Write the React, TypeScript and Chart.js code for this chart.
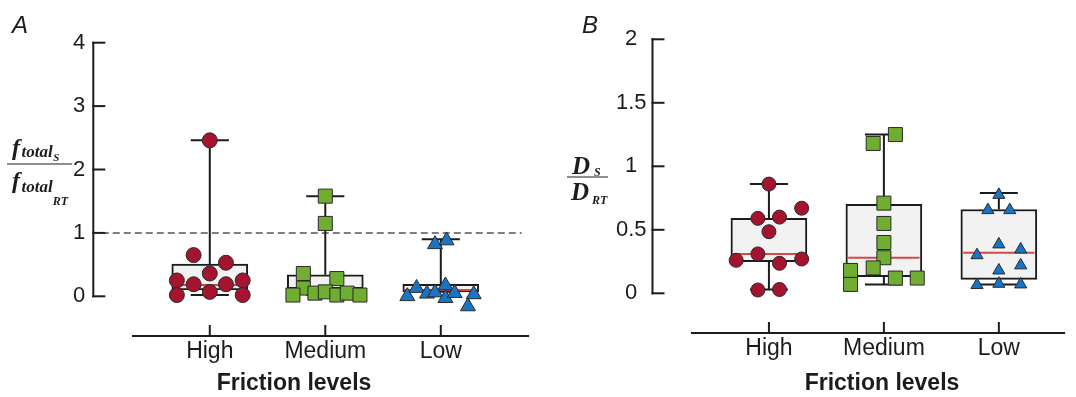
import React, { useEffect, useRef } from "react";
import { Chart, registerables } from "chart.js";

Chart.register(...registerables);

// ---------- data ----------
const categories = ["High", "Medium", "Low"];
const yTicksA = [0, 1, 2, 3, 4];
const yTicksB = [0, 0.5, 1, 1.5, 2];

// Panel A : f_totalS / f_totalRT
const aHigh = [2.46, 0.65, 0.53, 0.36, 0.25, 0.25, 0.19, 0.19, 0.07, 0.02, 0.02];
const aHighJitter = [0, -0.14, 0.14, 0, -0.285, 0.285, -0.14, 0.14, 0, -0.285, 0.285];
const aMedium = [1.58, 1.15, 0.36, 0.28, 0.13, 0.02, 0.05, 0.07, 0.02, 0.05, 0.02];
const aMediumJitter = [0, 0, -0.19, 0.1, -0.19, -0.28, -0.09, 0, 0.1, 0.19, 0.3];
const aLow = [0.0, 0.13, 0.04, 0.82, 0.06, 0.88, 0.17, -0.03, 0.05, -0.16, 0.03];
const aLowJitter = [-0.29, -0.21, -0.12, -0.05, -0.05, 0.05, 0.04, 0.04, 0.12, 0.235, 0.285];
const aQ1 = [0.1, 0.12, 0.07];
const aMedian = [0.18, 0.07, 0.1];
const aQ3 = [0.51, 0.34, 0.19];
const aMin = [0.02, 0.02, 0.07];
const aMax = [2.46, 1.58, 0.9];
const aReference = 1;

// Panel B : D_S / D_RT
const bHigh = [0.86, 0.67, 0.59, 0.6, 0.485, 0.31, 0.26, 0.27, 0.236, 0.026, 0.03];
const bHighJitter = [0, 0.285, -0.096, 0.092, 0, -0.096, -0.285, 0.285, 0.092, -0.096, 0.092];
const bMedium = [1.25, 1.18, 0.71, 0.55, 0.4, 0.28, 0.18, 0.07, 0.2, 0.12, 0.12];
const bMediumJitter = [0.1, -0.093, 0, 0, 0, 0, -0.29, -0.29, -0.093, 0.1, 0.29];
const bLow = [0.775, 0.655, 0.655, 0.385, 0.3, 0.345, 0.18, 0.22, 0.065, 0.075, 0.07];
const bLowJitter = [0, -0.095, 0.095, 0, -0.19, 0.19, 0, 0.19, -0.19, 0, 0.19];
const bQ1 = [0.25, 0.13, 0.11];
const bMedian = [0.31, 0.28, 0.32];
const bQ3 = [0.59, 0.7, 0.66];
const bMin = [0.03, 0.07, 0.07];
const bMax = [0.86, 1.25, 0.79];

// ---------- styles ----------
const RED = "#a5142f";
const GREEN = "#6fae31";
const BLUE = "#1875c5";
const INK = "#1c1c1c";
const MEDIAN = "#d24a4a";
const SANS = "'Liberation Sans', Arial, sans-serif";
const SERIF = "'Liberation Serif', 'Times New Roman', serif";

type Group = { values: number[]; jitter: number[]; style: string; radius: number; color: string };

type Spec = {
  width: number;
  groups: Group[];
  q1: number[];
  median: number[];
  q3: number[];
  min: number[];
  max: number[];
  yTicks: number[];
  yMin: number;
  yMax: number;
  xMin: number;
  xMax: number;
  axisStart: number;
  axisWidth: number;
  xAxisHeight: number;
  topPad: number;
  tickPad: number;
  reference?: number;
  refStart?: number;
  refEnd?: number;
  letter: string;
  letterX: number;
  titleX: number;
  drawFraction: (ctx: CanvasRenderingContext2D) => void;
};

const CAP = 0.165;
const HALF_BOX = 0.32;

function chain(ctx: CanvasRenderingContext2D, parts: [string, number, number, number][], x0: number) {
  // parts: text, font size, baseline, x adjust
  let x = x0;
  parts.forEach(([t, size, base, adj]) => {
    ctx.font = `italic bold ${size}px ${SERIF}`;
    x += adj;
    ctx.fillText(t, x, base);
    x += ctx.measureText(t).width;
  });
}

function fractionA(ctx: CanvasRenderingContext2D) {
  ctx.fillStyle = INK;
  ctx.textAlign = "left";
  ctx.textBaseline = "alphabetic";
  chain(ctx, [["f", 24, 155, 0], ["total", 17, 157, 1.5], ["S", 11, 161, 0.5]], 12);
  chain(ctx, [["f", 24, 188, 0], ["total", 17, 192, 1.5], ["RT", 12, 205, 0]], 12);
  ctx.strokeStyle = INK;
  ctx.lineWidth = 1.2;
  ctx.beginPath();
  ctx.moveTo(7, 164);
  ctx.lineTo(72, 164);
  ctx.stroke();
}

function fractionB(ctx: CanvasRenderingContext2D) {
  ctx.fillStyle = INK;
  ctx.textAlign = "left";
  ctx.textBaseline = "alphabetic";
  chain(ctx, [["D", 25, 174, 0], ["S", 12, 176, 4]], 32);
  chain(ctx, [["D", 25, 200, 0], ["RT", 12, 204, 3]], 31);
  ctx.strokeStyle = INK;
  ctx.lineWidth = 1.2;
  ctx.beginPath();
  ctx.moveTo(27, 177);
  ctx.lineTo(68, 177);
  ctx.stroke();
}

const specA: Spec = {
  width: 540,
  groups: [
    { values: aHigh, jitter: aHighJitter, style: "circle", radius: 7.5, color: RED },
    { values: aMedium, jitter: aMediumJitter, style: "rect", radius: 9.9, color: GREEN },
    { values: aLow, jitter: aLowJitter, style: "triangle", radius: 8.6, color: BLUE },
  ],
  q1: aQ1,
  median: aMedian,
  q3: aQ3,
  min: aMin,
  max: aMax,
  yTicks: yTicksA,
  yMin: -0.626,
  yMax: 4,
  xMin: -1.0084,
  xMax: 2.7644,
  axisStart: -0.673,
  axisWidth: 93.3,
  xAxisHeight: 61,
  topPad: 42.7,
  tickPad: 8,
  reference: aReference,
  refStart: -0.935,
  refEnd: 2.7,
  letter: "A",
  letterX: 12,
  titleX: 294,
  drawFraction: fractionA,
};

const specB: Spec = {
  width: 536,
  groups: [
    { values: bHigh, jitter: bHighJitter, style: "circle", radius: 7, color: RED },
    { values: bMedium, jitter: bMediumJitter, style: "rect", radius: 9.9, color: GREEN },
    { values: bLow, jitter: bLowJitter, style: "triangle", radius: 7, color: BLUE },
  ],
  q1: bQ1,
  median: bMedian,
  q3: bQ3,
  min: bMin,
  max: bMax,
  yTicks: yTicksB,
  yMin: -0.3126,
  yMax: 2,
  xMin: -1.0127,
  xMax: 2.5763,
  axisStart: -0.678,
  axisWidth: 112.5,
  xAxisHeight: 64,
  topPad: 39.3,
  tickPad: 6,
  letter: "B",
  letterX: 42,
  titleX: 342,
  drawFraction: fractionB,
};

function lineDs(points: { x: number; y: number }[], color: string, width: number, order: number, dash?: number[]) {
  return {
    type: "line",
    data: points,
    borderColor: color,
    borderWidth: width,
    borderDash: dash || [],
    pointRadius: 0,
    fill: false,
    tension: 0,
    order,
  };
}

function buildConfig(spec: Spec): any {
  const datasets: any[] = [];
  spec.groups.forEach((g, i) => {
    datasets.push({
      type: "scatter",
      data: g.values.map((v, k) => ({ x: i + g.jitter[k], y: v })),
      pointStyle: g.style,
      pointRadius: g.radius,
      pointHoverRadius: g.radius,
      backgroundColor: g.color,
      borderColor: "#2a2a2a",
      borderWidth: 1,
      order: 0,
    });
  });
  categories.forEach((_, i) => {
    datasets.push(lineDs([{ x: i - HALF_BOX + 0.01, y: spec.median[i] }, { x: i + HALF_BOX - 0.01, y: spec.median[i] }], MEDIAN, 2, 1));
    datasets.push(lineDs([{ x: i, y: spec.q3[i] }, { x: i, y: spec.max[i] }], INK, 2, 2));
    datasets.push(lineDs([{ x: i, y: spec.q1[i] }, { x: i, y: spec.min[i] }], INK, 2, 2));
    datasets.push(lineDs([{ x: i - CAP, y: spec.max[i] }, { x: i + CAP, y: spec.max[i] }], INK, 2, 2));
    datasets.push(lineDs([{ x: i - CAP, y: spec.min[i] }, { x: i + CAP, y: spec.min[i] }], INK, 2, 2));
  });
  datasets.push({
    type: "bar",
    data: categories.map((_, i) => ({ x: i, y: [spec.q1[i], spec.q3[i]] })),
    backgroundColor: "#f2f2f2",
    borderColor: INK,
    borderWidth: 2,
    borderSkipped: false,
    barThickness: 76,
    order: 3,
  });
  if (spec.reference !== undefined) {
    datasets.push(
      lineDs(
        [
          { x: spec.refStart!, y: spec.reference },
          { x: spec.refEnd!, y: spec.reference },
        ],
        "#555555",
        1.5,
        4,
        [7, 4]
      )
    );
  }

  const axesPlugin = {
    id: "axesAndLabels",
    afterDraw(chart: any) {
      const ctx: CanvasRenderingContext2D = chart.ctx;
      const xs = chart.scales.x;
      const ys = chart.scales.y;
      const area = chart.chartArea;
      ctx.save();
      ctx.strokeStyle = INK;
      ctx.lineWidth = 2;
      ctx.lineCap = "butt";
      // y axis
      const yx = area.left;
      const top = ys.getPixelForValue(spec.yTicks[spec.yTicks.length - 1]);
      const bottom = ys.getPixelForValue(spec.yTicks[0]);
      ctx.beginPath();
      ctx.moveTo(yx, top - 1);
      ctx.lineTo(yx, bottom + 1);
      ctx.stroke();
      spec.yTicks.forEach((t) => {
        const py = ys.getPixelForValue(t);
        ctx.beginPath();
        ctx.moveTo(yx - 1, py);
        ctx.lineTo(yx + 12, py);
        ctx.stroke();
      });
      // x axis
      const xb = area.bottom;
      ctx.beginPath();
      ctx.moveTo(xs.getPixelForValue(spec.axisStart), xb);
      ctx.lineTo(area.right, xb);
      ctx.stroke();
      categories.forEach((_, i) => {
        const px = xs.getPixelForValue(i);
        ctx.beginPath();
        ctx.moveTo(px, xb);
        ctx.lineTo(px, xb - 11);
        ctx.stroke();
      });
      // letter
      ctx.fillStyle = INK;
      ctx.textAlign = "left";
      ctx.textBaseline = "alphabetic";
      ctx.font = `italic 24px ${SANS}`;
      ctx.fillText(spec.letter, spec.letterX, 33);
      // x title
      ctx.textAlign = "center";
      ctx.font = `bold 23px ${SANS}`;
      ctx.fillText("Friction levels", spec.titleX, 390);
      // y title
      spec.drawFraction(ctx);
      ctx.restore();
    },
  };

  return {
    type: "scatter",
    data: { datasets },
    plugins: [axesPlugin],
    options: {
      responsive: false,
      animation: false,
      events: [],
      layout: { padding: { top: spec.topPad, left: 0, right: 0, bottom: 0 } },
      plugins: { legend: { display: false }, tooltip: { enabled: false } },
      scales: {
        x: {
          type: "linear",
          offset: false,
          min: spec.xMin,
          max: spec.xMax,
          grid: { display: false, drawTicks: false, offset: false },
          border: { display: false },
          afterBuildTicks: (s: any) => {
            s.ticks = categories.map((_, i) => ({ value: i }));
          },
          afterFit: (s: any) => {
            s.height = spec.xAxisHeight;
          },
          ticks: {
            padding: 2,
            color: INK,
            font: { family: SANS, size: 23 },
            maxRotation: 0,
            autoSkip: false,
            callback: (v: number) => categories[Math.round(v)],
          },
        },
        y: {
          type: "linear",
          offset: false,
          min: spec.yMin,
          max: spec.yMax,
          grid: { display: false, drawTicks: false },
          border: { display: false },
          afterBuildTicks: (s: any) => {
            s.ticks = spec.yTicks.map((v) => ({ value: v }));
          },
          afterFit: (s: any) => {
            s.width = spec.axisWidth;
          },
          ticks: {
            padding: spec.tickPad,
            color: INK,
            crossAlign: "center",
            font: { family: SANS, size: 22 },
            autoSkip: false,
            callback: (v: number) => String(v),
          },
        },
      },
    },
  };
}

function Panel({ spec, left }: { spec: Spec; left: number }) {
  const ref = useRef<HTMLCanvasElement>(null);
  useEffect(() => {
    const chart = new Chart(ref.current as HTMLCanvasElement, buildConfig(spec));
    return () => chart.destroy();
  }, [spec]);
  return (
    <canvas
      ref={ref}
      width={spec.width}
      height={397}
      style={{ position: "absolute", left, top: 0, width: spec.width, height: 397 }}
    />
  );
}

export default function App() {
  return (
    <div style={{ position: "absolute", left: 0, top: 0, width: 1076, height: 397, background: "#ffffff" }}>
      <Panel spec={specA} left={0} />
      <Panel spec={specB} left={540} />
    </div>
  );
}
